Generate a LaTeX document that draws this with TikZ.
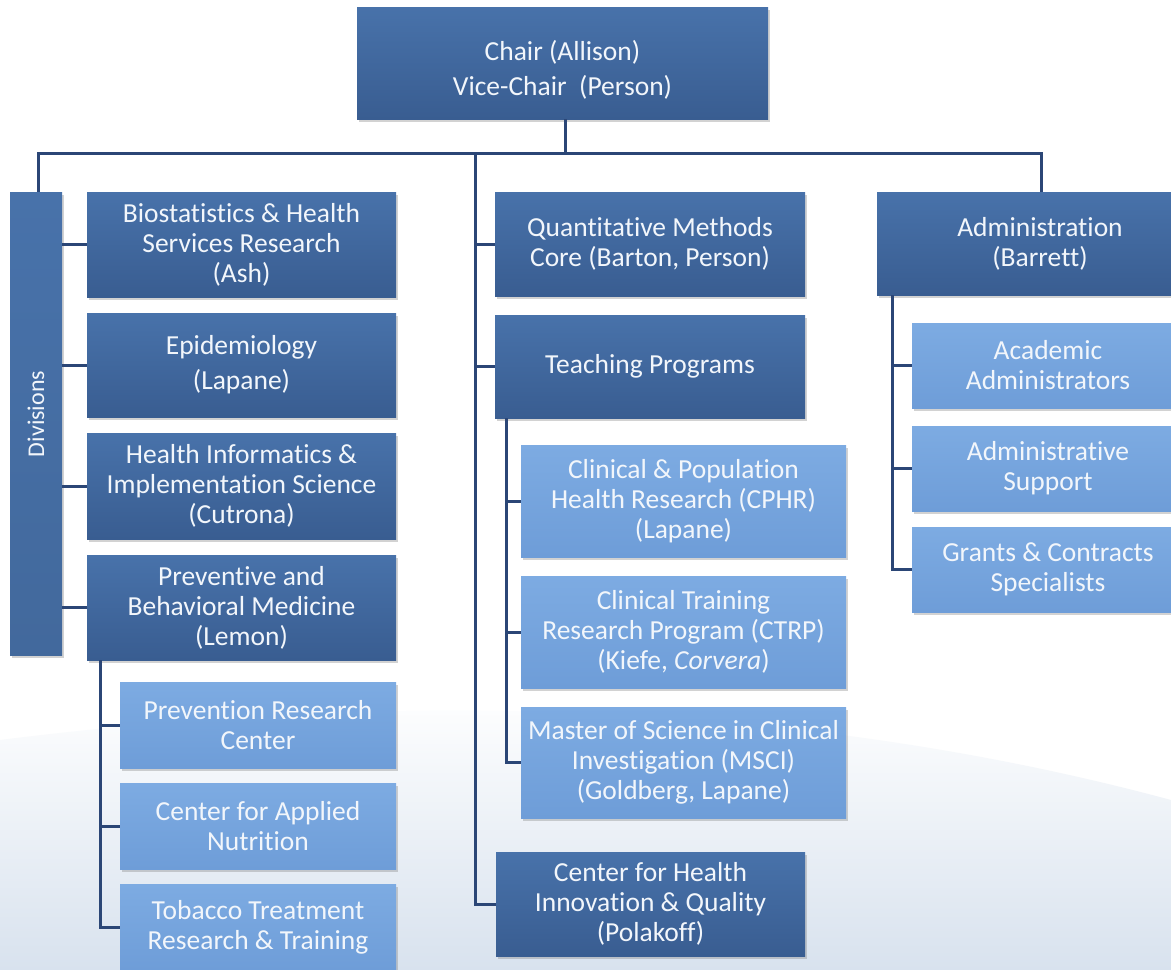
\documentclass[tikz,border=0pt]{standalone}
\usepackage{fontspec}
\setmainfont{Carlito}[Ligatures={NoCommon}]
\usetikzlibrary{shadows}
\definecolor{dtop}{HTML}{4872AA}
\definecolor{dbot}{HTML}{395D91}
\definecolor{ltop}{HTML}{7DABE2}
\definecolor{lbot}{HTML}{6E9DD8}
\definecolor{linec}{HTML}{2B4676}
\definecolor{txt}{HTML}{F2F6FB}
\definecolor{bgb}{HTML}{D8E2EE}
\tikzset{
  box/.style={draw=none, text=txt, align=center, inner sep=0pt,
     font=\fontsize{27.5}{30}\selectfont,
     drop shadow={opacity=0.35, shadow xshift=1.5pt, shadow yshift=-2.5pt}},
  wide/.style={font=\fontsize{27.5}{35}\selectfont},
  dark/.style={box, top color=dtop, bottom color=dbot},
  light/.style={box, top color=ltop, bottom color=lbot},
  conn/.style={draw=linec, line width=3pt},
}
\begin{document}
\begin{tikzpicture}[x=1pt, y=-1pt]
\clip (0,0) rectangle (1171,970);
\fill[white] (0,0) rectangle (1171,970);
\shade[top color=white, bottom color=bgb]
  (0,740) .. controls (400,690) and (800,700) .. (1171,800) -- (1171,970) -- (0,970) -- cycle;

% nodes
\node[dark, wide, minimum width=411pt, minimum height=112pt] (chair) at (562.5,63) {\rule{0pt}{0pt}\\[-2pt]Chair (Allison)\\Vice-Chair\ \ (Person)};
\node[dark, minimum width=52pt, minimum height=463pt, top color=dtop, bottom color=dtop!92!black] (div) at (36,423.5) {};
\node[text=txt, rotate=90, font=\fontsize{24}{28}\selectfont] (divt) at (36,414) {Divisions};

\node[dark, minimum width=309pt, minimum height=105pt] (bio) at (241.5,244.5) {Biostatistics \& Health\\Services Research\\(Ash)};
\node[dark, wide, minimum width=309pt, minimum height=104pt] (epi) at (241.5,365) {Epidemiology\\(Lapane)};
\node[dark, minimum width=309pt, minimum height=106pt] (hi) at (241.5,486) {Health Informatics \&\\Implementation Science\\(Cutrona)};
\node[dark, minimum width=309pt, minimum height=105pt] (pbm) at (241.5,607.5) {Preventive and\\Behavioral Medicine\\(Lemon)};
\node[light, minimum width=276pt, minimum height=86pt] (prc) at (258,725) {Prevention Research\\Center};
\node[light, minimum width=276pt, minimum height=86pt] (can) at (258,826) {Center for Applied\\Nutrition};
\node[light, minimum width=276pt, minimum height=86pt] (tob) at (258,927) {Tobacco Treatment\\Research \& Training};

\node[dark, minimum width=310pt, minimum height=104pt] (qmc) at (650,244) {Quantitative Methods\\Core (Barton, Person)};
\node[dark, minimum width=310pt, minimum height=103pt] (tp) at (650,366.5) {Teaching Programs};
\node[light, minimum width=325pt, minimum height=112pt] (cphr) at (683.5,501) {Clinical \& Population\\Health Research (CPHR)\\(Lapane)};
\node[light, minimum width=325pt, minimum height=112pt] (ctrp) at (683.5,632) {Clinical Training\\Research Program (CTRP)\\(Kiefe, \textit{Corvera})};
\node[light, minimum width=325pt, minimum height=111pt] (msci) at (683.5,762.5) {Master of Science in Clinical\\Investigation (MSCI)\\(Goldberg, Lapane)};
\node[dark, minimum width=309pt, minimum height=104pt] (chiq) at (650.5,904) {Center for Health\\Innovation \& Quality\\(Polakoff)};

\node[dark, minimum width=326pt, minimum height=103pt] (adm) at (1040,243.5) {Administration\\(Barrett)};
\node[light, minimum width=272pt, minimum height=85pt] (aa) at (1048,365.5) {Academic\\Administrators};
\node[light, minimum width=272pt, minimum height=85pt] (as) at (1048,468.5) {Administrative\\Support};
\node[light, minimum width=272pt, minimum height=85pt] (gc) at (1048,569.5) {Grants \& Contracts\\Specialists};

% connector points
\coordinate (cb) at (565,153);
\coordinate (bl) at (38,153);
\coordinate (br) at (1041,153);
\coordinate (bt) at (475,153);
\coordinate (pv) at (100,660);
\coordinate (tv) at (506,418);
\coordinate (av) at (892,295);

% connectors
\draw[conn] (chair.south -| cb) -- (cb);
\draw[conn] (bl |- div.north) -- (bl) -- (br) -- (br |- adm.north);
\draw[conn] (bt) |- (chiq.west);
\draw[conn] (qmc.west -| bt) -- (qmc.west);
\draw[conn] (tp.west -| bt) -- (tp.west);
\draw[conn] (div.east |- bio.west) -- (bio.west);
\draw[conn] (div.east |- epi.west) -- (epi.west);
\draw[conn] (div.east |- hi.west) -- (hi.west);
\draw[conn] (div.east |- pbm.west) -- (pbm.west);
\draw[conn] (pv) |- (tob.west);
\draw[conn] (prc.west -| pv) -- (prc.west);
\draw[conn] (can.west -| pv) -- (can.west);
\draw[conn] (tv) |- (msci.west);
\draw[conn] (cphr.west -| tv) -- (cphr.west);
\draw[conn] (ctrp.west -| tv) -- (ctrp.west);
\draw[conn] (av) |- (gc.west);
\draw[conn] (aa.west -| av) -- (aa.west);
\draw[conn] (as.west -| av) -- (as.west);
\end{tikzpicture}
\end{document}
